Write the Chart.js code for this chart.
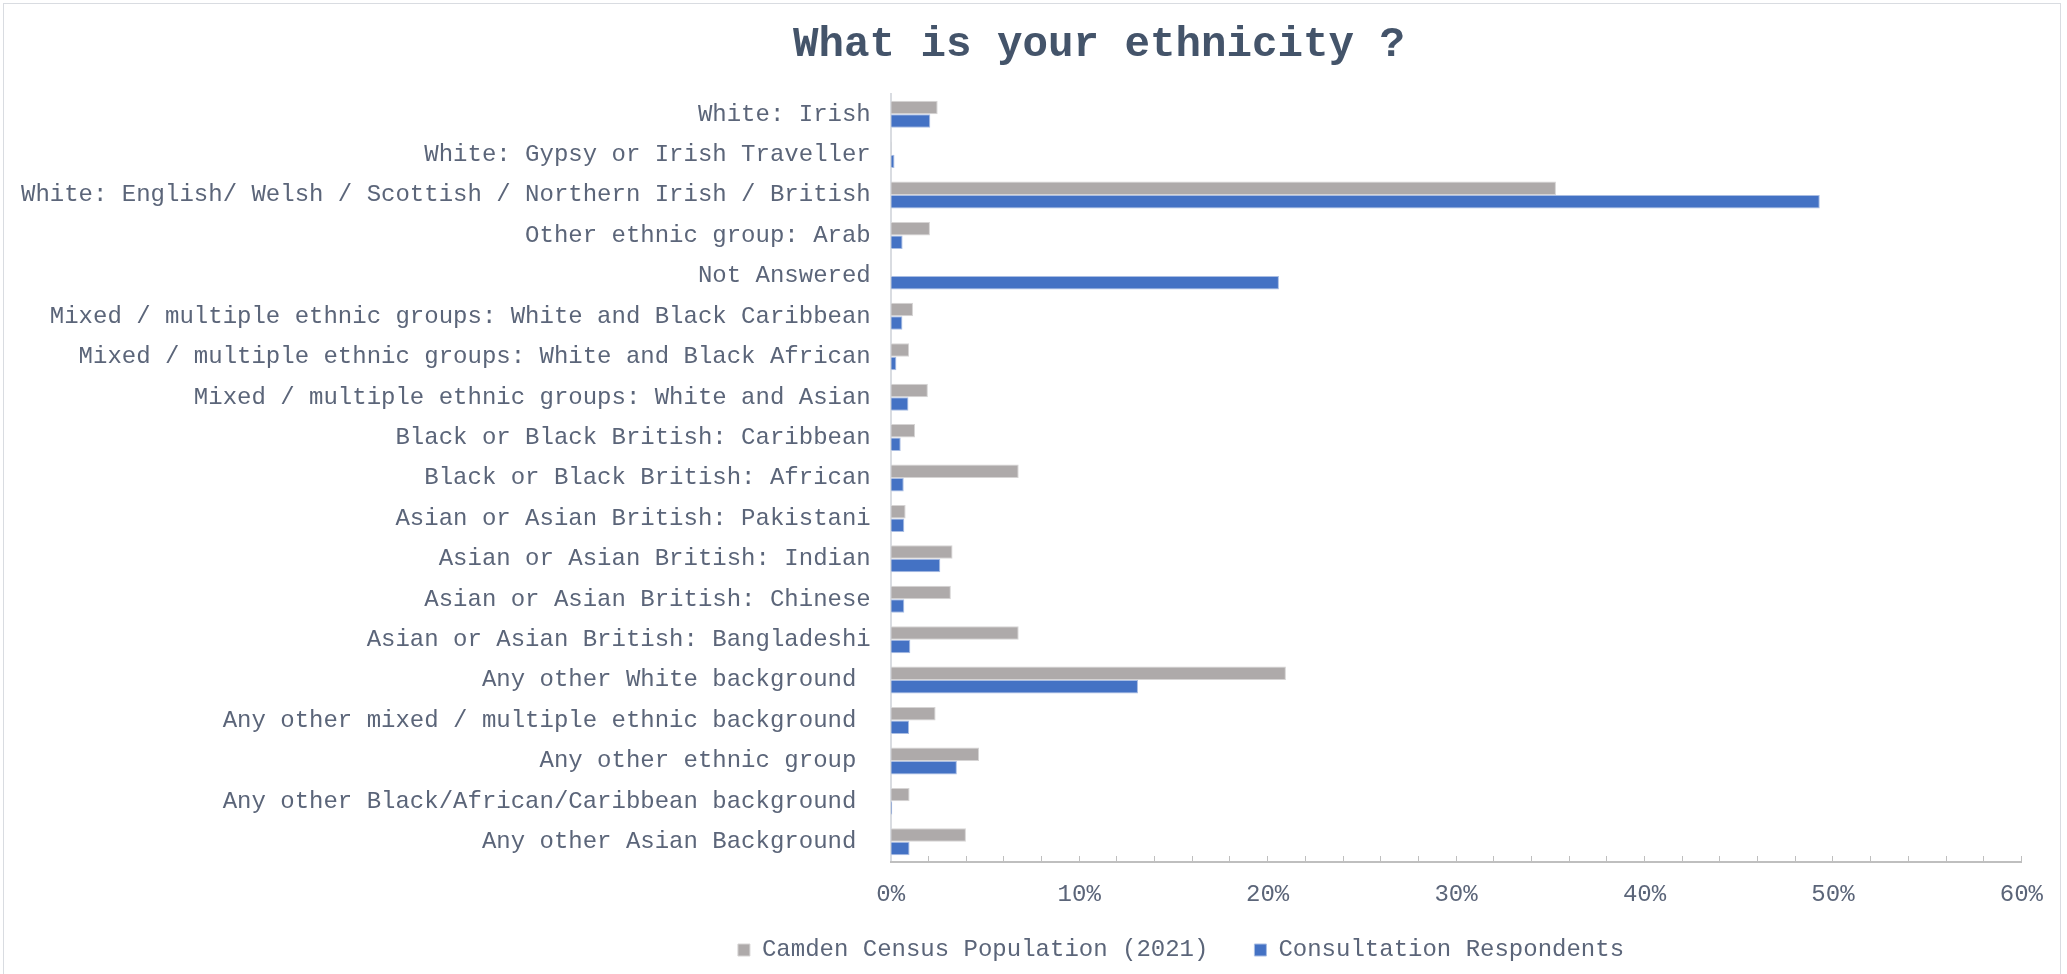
<!DOCTYPE html>
<html>
<head>
<meta charset="utf-8">
<title>What is your ethnicity ?</title>
<script src="https://cdn.jsdelivr.net/npm/chart.js@4.4.0/dist/chart.umd.min.js"></script>
<style>
  html, body { margin: 0; padding: 0; background: #ffffff; overflow: hidden; }
  #wrap { position: relative; width: 2067px; height: 974px; }
  #frame {
    position: absolute; left: 3px; top: 3px; width: 2056px; height: 990px;
    border: 1px solid #d9dce1; pointer-events: none;
  }
</style>
</head>
<body>
<div id="wrap">
  <canvas id="ethnicityChart" width="2067" height="974"></canvas>
  <div id="frame"></div>
</div>
<script>
// ---- data ----
const categories = [
  'White: Irish',
  'White: Gypsy or Irish Traveller',
  'White: English/ Welsh / Scottish / Northern Irish / British',
  'Other ethnic group: Arab',
  'Not Answered',
  'Mixed / multiple ethnic groups: White and Black Caribbean',
  'Mixed / multiple ethnic groups: White and Black African',
  'Mixed / multiple ethnic groups: White and Asian',
  'Black or Black British: Caribbean',
  'Black or Black British: African',
  'Asian or Asian British: Pakistani',
  'Asian or Asian British: Indian',
  'Asian or Asian British: Chinese',
  'Asian or Asian British: Bangladeshi',
  'Any other White background ',
  'Any other mixed / multiple ethnic background ',
  'Any other ethnic group ',
  'Any other Black/African/Caribbean background ',
  'Any other Asian Background '
];

// percentages
const censusPopulation = [2.49, 0.05, 35.3, 2.08, 0, 1.18, 0.97, 1.97, 1.29, 6.79, 0.79, 3.28, 3.19, 6.79, 20.97, 2.38, 4.69, 1.0, 3.99];
const respondents      = [2.1, 0.2, 49.3, 0.63, 20.6, 0.62, 0.3, 0.94, 0.53, 0.69, 0.72, 2.63, 0.72, 1.04, 13.12, 0.97, 3.51, 0.08, 1.0];

const seriesNames = ['Camden Census Population (2021)', 'Consultation Respondents'];
const xTickLabels = ['0%', '10%', '20%', '30%', '40%', '50%', '60%'];

// ---- styling ----
const FONT = "'Liberation Mono', 'Courier New', monospace";
const TEXT_COLOR = '#5b6579';
const TITLE_COLOR = '#44546a';

// title and legend are not centred on the canvas, nudge them sideways
const TITLE_CENTER_X = 1099;
const LEGEND_CENTER_X = 1181;

const shiftBoxes = {
  id: 'shiftBoxes',
  afterLayout(chart) {
    const t = chart.titleBlock;
    if (t) {
      const d = TITLE_CENTER_X - (t.left + t.right) / 2;
      t.left += d; t.right += d;
    }
    const lg = chart.legend;
    if (lg && lg.lineWidths) {
      const pad = lg.options.labels.padding;
      const rowW = lg.lineWidths[0];
      // where Chart.js starts the row, and the middle of the drawn items
      const start = (lg.left + pad + lg.right - rowW) / 2;
      const cur = start + (rowW - pad) / 2;
      const d = LEGEND_CENTER_X - cur;
      lg.left += d; lg.right += d;
    }
    // the x band is kept tight for layout; let its labels draw past it
    const x = chart.scales.x;
    if (x) x.bottom += 24;
  }
};

Chart.defaults.font.family = FONT;
Chart.defaults.color = TEXT_COLOR;

const ctx = document.getElementById('ethnicityChart').getContext('2d');

new Chart(ctx, {
  type: 'bar',
  data: {
    labels: categories,
    datasets: [
      {
        label: seriesNames[0],
        data: censusPopulation,
        backgroundColor: '#aeaaaa',
        borderColor: '#d6d4d4',
        borderWidth: 1,
        categoryPercentage: 0.667,
        barPercentage: 1.0
      },
      {
        label: seriesNames[1],
        data: respondents,
        backgroundColor: '#4472c4',
        borderColor: '#a9bde3',
        borderWidth: 1,
        categoryPercentage: 0.667,
        barPercentage: 1.0
      }
    ]
  },
  options: {
    indexAxis: 'y',
    responsive: false,
    devicePixelRatio: 1,
    animation: false,
    layout: { padding: { left: 1, right: 26, top: 0, bottom: 2 } },
    plugins: {
      title: {
        display: true,
        text: 'What is your ethnicity ?',
        color: TITLE_COLOR,
        font: { family: FONT, size: 42.5, weight: 'bold', lineHeight: 1.2 },
        padding: { top: 20, bottom: 23 }
      },
      legend: {
        position: 'bottom',
        labels: {
          color: TEXT_COLOR,
          font: { family: FONT, size: 24 },
          boxWidth: 12,
          boxHeight: 12,
          padding: 46
        }
      },
      tooltip: { enabled: false }
    },
    scales: {
      y: {
        grid: { display: false, drawTicks: false },
        border: { display: true, color: '#d9dce1', width: 2 },
        ticks: {
          color: TEXT_COLOR,
          font: { family: FONT, size: 24 },
          padding: 20,
          autoSkip: false
        }
      },
      x: {
        min: 0,
        max: 60,
        border: { display: true, color: '#bfbfbf', width: 2 },
        grid: {
          display: true,
          drawOnChartArea: false,
          drawTicks: true,
          tickLength: -6,
          color: '#bfbfbf',
          lineWidth: 1
        },
        ticks: {
          stepSize: 2,
          autoSkip: false,
          maxRotation: 0,
          color: TEXT_COLOR,
          font: { family: FONT, size: 24 },
          padding: 24,
          callback: (v) => (v % 10 === 0 ? xTickLabels[v / 10] : '')
        },
        // keep the axis band tight so the labels sit just above the legend
        afterFit: (scale) => { scale.height = 30; }
      }
    }
  },
  plugins: [shiftBoxes]
});
</script>
</body>
</html>
